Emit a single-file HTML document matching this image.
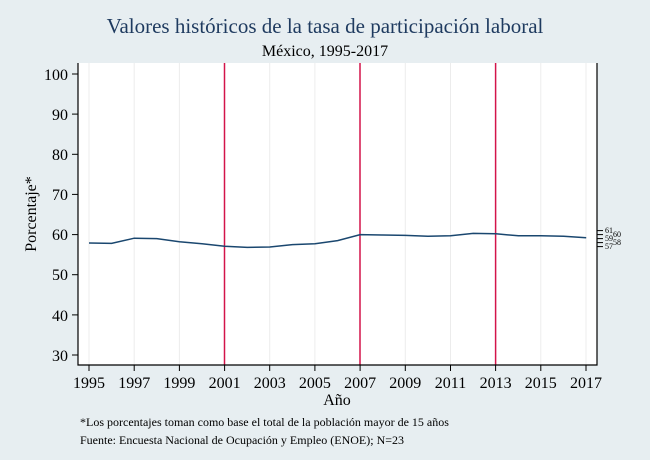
<!DOCTYPE html>
<html><head><meta charset="utf-8"><style>
body{margin:0;background:#e7eef1;}
svg{display:block;font-family:"Liberation Serif",serif;}
</style></head><body>
<svg width="650" height="460" xmlns="http://www.w3.org/2000/svg">
<rect width="650" height="460" fill="#e7eef1"/>
<text x="325" y="33" font-size="21" fill="#1e3a5f" text-anchor="middle">Valores históricos de la tasa de participación laboral</text>
<text x="325" y="56" font-size="16" fill="#000" text-anchor="middle">México, 1995-2017</text>
<rect x="78" y="63" width="519" height="302" fill="#fff"/>
<g stroke="#ececec" stroke-width="1">
<line x1="89" y1="63" x2="89" y2="365"/><line x1="134.2" y1="63" x2="134.2" y2="365"/><line x1="179.4" y1="63" x2="179.4" y2="365"/>
<line x1="269.7" y1="63" x2="269.7" y2="365"/><line x1="314.9" y1="63" x2="314.9" y2="365"/>
<line x1="405.3" y1="63" x2="405.3" y2="365"/><line x1="450.5" y1="63" x2="450.5" y2="365"/>
<line x1="540.8" y1="63" x2="540.8" y2="365"/><line x1="586" y1="63" x2="586" y2="365"/>
</g>
<g stroke="#d3144a" stroke-width="1.5">
<line x1="224.5" y1="63" x2="224.5" y2="365"/><line x1="360" y1="63" x2="360" y2="365"/><line x1="495.6" y1="63" x2="495.6" y2="365"/>
</g>
<polyline fill="none" stroke="#1a476f" stroke-width="1.5" points="89,243 111.6,243.4 134.2,238.2 156.8,238.6 179.4,241.8 202,243.8 224.6,246.2 247.2,247.4 269.8,247 292.4,244.6 315,243.8 337.6,240.6 360.2,234.6 382.8,235 405.4,235.4 428,236.2 450.6,235.8 473.2,233.4 495.8,233.8 518.4,235.8 541,235.8 563.6,236.2 586.2,237.8"/>
<g stroke="#000" stroke-width="1.2" fill="none">
<polyline points="78,63 78,365 597,365 597,63"/>
</g>
<g stroke="#000" stroke-width="1">
<line x1="72" y1="74" x2="78" y2="74"/><line x1="72" y1="114.1" x2="78" y2="114.1"/><line x1="72" y1="154.3" x2="78" y2="154.3"/><line x1="72" y1="194.4" x2="78" y2="194.4"/><line x1="72" y1="234.6" x2="78" y2="234.6"/><line x1="72" y1="274.7" x2="78" y2="274.7"/><line x1="72" y1="314.9" x2="78" y2="314.9"/><line x1="72" y1="355" x2="78" y2="355"/>
<line x1="89" y1="365" x2="89" y2="371"/><line x1="134.2" y1="365" x2="134.2" y2="371"/><line x1="179.4" y1="365" x2="179.4" y2="371"/><line x1="224.6" y1="365" x2="224.6" y2="371"/><line x1="269.7" y1="365" x2="269.7" y2="371"/><line x1="314.9" y1="365" x2="314.9" y2="371"/><line x1="360.1" y1="365" x2="360.1" y2="371"/><line x1="405.3" y1="365" x2="405.3" y2="371"/><line x1="450.5" y1="365" x2="450.5" y2="371"/><line x1="495.6" y1="365" x2="495.6" y2="371"/><line x1="540.8" y1="365" x2="540.8" y2="371"/><line x1="586" y1="365" x2="586" y2="371"/>
<line x1="597" y1="230.6" x2="603" y2="230.6"/><line x1="597" y1="234.6" x2="603" y2="234.6"/><line x1="597" y1="238.6" x2="603" y2="238.6"/><line x1="597" y1="242.6" x2="603" y2="242.6"/><line x1="597" y1="246.6" x2="603" y2="246.6"/>
</g>
<g font-size="16" text-anchor="end" fill="#000">
<text x="68" y="80">100</text><text x="68" y="120">90</text><text x="68" y="160">80</text><text x="68" y="200">70</text><text x="68" y="240">60</text><text x="68" y="280">50</text><text x="68" y="321">40</text><text x="68" y="361">30</text>
</g>
<g font-size="16" text-anchor="middle" fill="#000">
<text x="89" y="388">1995</text><text x="134.2" y="388">1997</text><text x="179.4" y="388">1999</text><text x="224.6" y="388">2001</text><text x="269.7" y="388">2003</text><text x="314.9" y="388">2005</text><text x="360.1" y="388">2007</text><text x="405.3" y="388">2009</text><text x="450.5" y="388">2011</text><text x="495.6" y="388">2013</text><text x="540.8" y="388">2015</text><text x="586" y="388">2017</text>
</g>
<g font-size="8" fill="#000">
<text x="605" y="233">61</text><text x="613" y="237">60</text><text x="605" y="241">59</text><text x="613" y="245">58</text><text x="605" y="249">57</text>
</g>
<text x="337" y="405" font-size="16" text-anchor="middle">Año</text>
<text transform="translate(36,214) rotate(-90)" font-size="16" text-anchor="middle">Porcentaje*</text>
<text x="80" y="426" font-size="12">*Los porcentajes toman como base el total de la población mayor de 15 años</text>
<text x="80" y="444" font-size="12">Fuente: Encuesta Nacional de Ocupación y Empleo (ENOE); N=23</text>
</svg>
</body></html>
